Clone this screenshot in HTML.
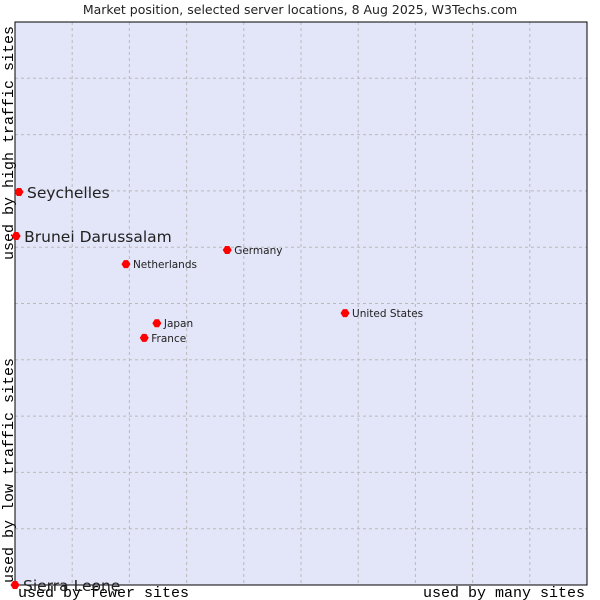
<!DOCTYPE html>
<html><head><meta charset="utf-8"><style>
body{margin:0;background:#fff}
svg{display:block}
</style></head><body>
<svg id="c" width="600" height="600" xmlns="http://www.w3.org/2000/svg">
<rect x="0" y="0" width="600" height="600" fill="#fff"/>
<text x="300" y="14" text-anchor="middle" font-family="DejaVu Sans, Liberation Sans, sans-serif" font-size="12.5" fill="#222">Market position, selected server locations, 8 Aug 2025, W3Techs.com</text>
<rect x="15" y="22" width="572" height="563" fill="#e3e5f8"/>
<g id="grid"></g>
<rect x="15" y="22" width="572" height="563" fill="none" stroke="#000" stroke-width="1"/>
<text transform="translate(13,260) rotate(-90)" font-family="Liberation Mono, DejaVu Sans Mono, monospace" font-size="15" fill="#000">used by high traffic sites</text>
<text transform="translate(13,583) rotate(-90)" font-family="Liberation Mono, DejaVu Sans Mono, monospace" font-size="15" fill="#000">used by low traffic sites</text>
<text x="18" y="597" font-family="Liberation Mono, DejaVu Sans Mono, monospace" font-size="15" fill="#000">used by fewer sites</text>
<text x="585" y="597" text-anchor="end" font-family="Liberation Mono, DejaVu Sans Mono, monospace" font-size="15" fill="#000">used by many sites</text>
<g id="pts"></g>
</svg>
<script>
const countries=["Seychelles","Brunei Darussalam","Germany","Netherlands","Japan","France","United States","Sierra Leone"];
const xValues=[0.7,0.2,37.1,19.4,24.8,22.6,57.7,0];
const yValues=[69.8,62,59.5,57,46.5,43.9,48.3,0];
const highlighted=[true,true,false,false,false,false,false,true];
const NS="http://www.w3.org/2000/svg";
const L=15,R=587,T=22,B=585;
const sx=v=>L+v/100*(R-L), sy=v=>B-v/100*(B-T);
const g=document.getElementById('grid');
for(let i=1;i<10;i++){
 const v=document.createElementNS(NS,'line');
 v.setAttribute('x1',sx(i*10));v.setAttribute('x2',sx(i*10));v.setAttribute('y1',T);v.setAttribute('y2',B);
 v.setAttribute('stroke','#bbb');v.setAttribute('stroke-dasharray','3,3');
 
 
 g.appendChild(v);
 const h=document.createElementNS(NS,'line');
 h.setAttribute('y1',sy(i*10));h.setAttribute('y2',sy(i*10));h.setAttribute('x1',L);h.setAttribute('x2',R);
 h.setAttribute('stroke','#bbb');h.setAttribute('stroke-dasharray','3,3');
 
 
 g.appendChild(h);
}
const p=document.getElementById('pts');
countries.forEach((c,i)=>{
 const x=sx(xValues[i]),y=sy(yValues[i]);
 const d=document.createElementNS(NS,'path');
 d.setAttribute('d',`M${x-4.5},${y} L${x-2},${y-4} L${x+2},${y-4} L${x+4.5},${y} L${x+2},${y+4} L${x-2},${y+4} Z`);
 d.setAttribute('fill','#f00');
 
 
 p.appendChild(d);
 const t=document.createElementNS(NS,'text');
 const big=highlighted[i];
 t.setAttribute('x',x+(big?8:7));t.setAttribute('y',y+(big?6:4));
 t.setAttribute('font-family','DejaVu Sans, Liberation Sans, sans-serif');
 t.setAttribute('font-size',big?'15.5':'10.5');
 t.setAttribute('fill','#222');
 t.textContent=c;
 
 
 p.appendChild(t);
});
</script>
</body></html>
